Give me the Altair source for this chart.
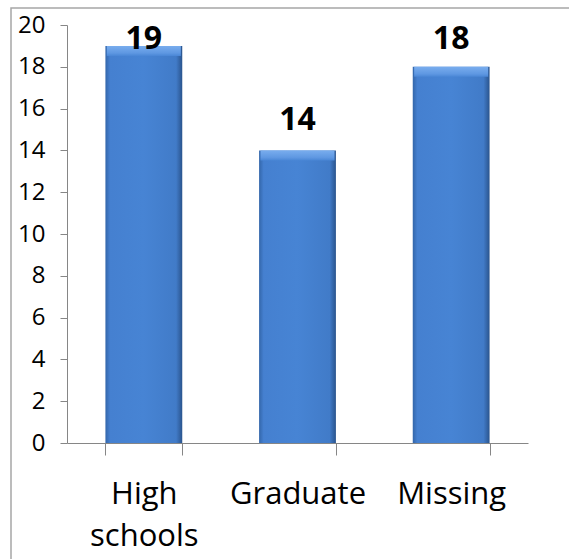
import altair as alt
import pandas as pd

# Counts per group
categories = ["High schools", "Graduate", "Missing"]
counts = [19, 14, 18]
y_ticks = [0, 2, 4, 6, 8, 10, 12, 14, 16, 18, 20]

df = pd.DataFrame({"category": categories, "value": counts})

AXIS_GREY = "#868686"
FONT = "Open Sans"

x_enc = alt.X(
    "category:N",
    sort=categories,
    scale=alt.Scale(paddingInner=0.5, paddingOuter=0.25),
    axis=alt.Axis(
        title=None,
        labelAngle=0,
        tickBand="extent",
        tickSize=12,
        tickColor=AXIS_GREY,
        domainColor=AXIS_GREY,
        labelFont=FONT,
        labelFontSize=31,
        labelColor="#000000",
        labelExpr="split(datum.label, ' ')",
        labelLineHeight=42,
        labelPadding=24,
    ),
)

y_scale = alt.Scale(domain=[0, 20], nice=False)

base = alt.Chart(df)

# Bevelled blue columns: darker side edges, brighter body
side_shade = alt.Gradient(
    gradient="linear",
    x1=0, x2=1, y1=0, y2=0,
    stops=[
        alt.GradientStop(color="#3366aa", offset=0),
        alt.GradientStop(color="#4580d0", offset=0.06),
        alt.GradientStop(color="#4784d4", offset=0.5),
        alt.GradientStop(color="#417bc8", offset=0.92),
        alt.GradientStop(color="#2a548d", offset=1),
    ],
)

bars = base.mark_bar(color=side_shade).encode(
    x=x_enc,
    y=alt.Y(
        "value:Q",
        scale=y_scale,
        axis=alt.Axis(
            title=None,
            values=y_ticks,
            grid=False,
            tickSize=7,
            tickColor=AXIS_GREY,
            domainColor=AXIS_GREY,
            labelFont=FONT,
            labelFontSize=24,
            labelColor="#000000",
            labelPadding=15,
        ),
    ),
)

# Lighter bevel along each column's top edge
top_shade = alt.Gradient(
    gradient="linear",
    x1=0, x2=0, y1=0, y2=1,
    stops=[
        alt.GradientStop(color="#79adee", offset=0),
        alt.GradientStop(color="#5f98e2", offset=0.7),
        alt.GradientStop(color="#4a87d6", offset=1),
    ],
)
bevel = base.mark_tick(
    color=top_shade, thickness=10, size=74, yOffset=5, opacity=1
).encode(
    x=alt.X("category:N", sort=categories),
    y=alt.Y("value:Q", scale=y_scale),
)

# Value labels above the columns, kept inside the plot's top edge
labels = base.transform_calculate(
    label_y="min(datum.value, 17.9)"
).mark_text(
    font=FONT, fontSize=32, fontWeight="bold", color="#000000",
    baseline="alphabetic", dy=-20,
).encode(
    x=alt.X("category:N", sort=categories),
    y=alt.Y("label_y:Q", scale=y_scale),
    text=alt.Text("value:Q"),
)

# Outer frame of the chart area
frame = alt.Chart(pd.DataFrame({"f": [0]})).mark_rect(
    fill=None, stroke="#a6a6a6", strokeWidth=1.5
).encode(
    x=alt.value(-56), x2=alt.value(700),
    y=alt.value(-17), y2=alt.value(700),
)

chart = (
    alt.layer(frame, bars, bevel, labels)
    .properties(
        width=461,
        height=418,
        padding={"left": 67, "top": 25, "right": 41, "bottom": 116},
        autosize=alt.AutoSizeParams(type="none"),
        background="white",
    )
    .configure_view(stroke=None)
)

chart.save("out.html", embed_options={"renderer": "svg", "actions": False})
